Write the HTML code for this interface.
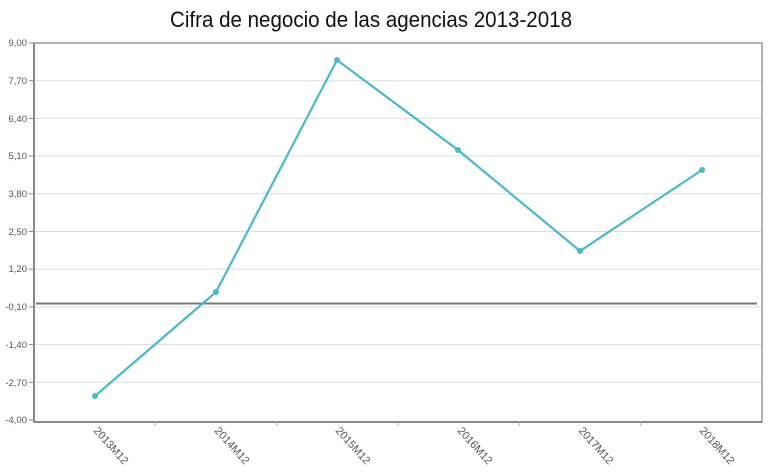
<!DOCTYPE html>
<html><head><meta charset="utf-8"><style>
body{margin:0;background:#fff;}
svg{display:block;font-family:"Liberation Sans",sans-serif;}
</style></head><body>
<svg width="768" height="476" viewBox="0 0 768 476">
<text x="170" y="27" font-size="22" fill="#111" textLength="402" lengthAdjust="spacingAndGlyphs">Cifra de negocio de las agencias 2013-2018</text>
<g stroke="#ddd" stroke-width="1">
<line x1="34" x2="762" y1="80.7" y2="80.7"/>
<line x1="34" x2="762" y1="118.4" y2="118.4"/>
<line x1="34" x2="762" y1="156.1" y2="156.1"/>
<line x1="34" x2="762" y1="193.8" y2="193.8"/>
<line x1="34" x2="762" y1="231.5" y2="231.5"/>
<line x1="34" x2="762" y1="269.2" y2="269.2"/>
<line x1="34" x2="762" y1="306.9" y2="306.9"/>
<line x1="34" x2="762" y1="344.6" y2="344.6"/>
<line x1="34" x2="762" y1="382.3" y2="382.3"/>
</g>
<line x1="36" x2="757" y1="303.5" y2="303.5" stroke="#777" stroke-width="2"/>
<rect x="34" y="43" width="728" height="379" fill="none" stroke="#999" stroke-width="1.5"/>
<line x1="34" x2="34" y1="43" y2="422" stroke="#888" stroke-width="2"/>
<line x1="34" x2="762" y1="422" y2="422" stroke="#888" stroke-width="2"/>
<g stroke="#aaa"><line x1="155" x2="155" y1="422" y2="426"/><line x1="277" x2="277" y1="422" y2="426"/><line x1="398" x2="398" y1="422" y2="426"/><line x1="519" x2="519" y1="422" y2="426"/><line x1="641" x2="641" y1="422" y2="426"/></g>
<g stroke="#888"><line x1="29" x2="34" y1="43" y2="43"/><line x1="29" x2="34" y1="80.7" y2="80.7"/><line x1="29" x2="34" y1="118.4" y2="118.4"/><line x1="29" x2="34" y1="156.1" y2="156.1"/><line x1="29" x2="34" y1="193.8" y2="193.8"/><line x1="29" x2="34" y1="231.5" y2="231.5"/><line x1="29" x2="34" y1="269.2" y2="269.2"/><line x1="29" x2="34" y1="306.9" y2="306.9"/><line x1="29" x2="34" y1="344.6" y2="344.6"/><line x1="29" x2="34" y1="382.3" y2="382.3"/><line x1="29" x2="34" y1="420" y2="420"/></g>
<g font-size="9.5" fill="#555" text-anchor="end">
<text x="27" y="46">9,00</text><text x="27" y="84">7,70</text><text x="27" y="122">6,40</text><text x="27" y="159">5,10</text><text x="27" y="197">3,80</text><text x="27" y="235">2,50</text><text x="27" y="272">1,20</text><text x="27" y="310">-0,10</text><text x="27" y="348">-1,40</text><text x="27" y="386">-2,70</text><text x="27" y="423">-4,00</text>
</g>
<g font-size="11" fill="#555">
<text transform="translate(93,431) rotate(48)">2013M12</text>
<text transform="translate(214,431) rotate(48)">2014M12</text>
<text transform="translate(335,431) rotate(48)">2015M12</text>
<text transform="translate(457,431) rotate(48)">2016M12</text>
<text transform="translate(578,431) rotate(48)">2017M12</text>
<text transform="translate(699,431) rotate(48)">2018M12</text>
</g>
<polyline points="95,396 216,292 337,60 458,150 580,251 702,170" fill="none" stroke="#4bb8c8" stroke-width="2.2"/>
<g fill="#4bb8c8"><circle cx="95" cy="396" r="3"/><circle cx="216" cy="292" r="3"/><circle cx="337" cy="60" r="3"/><circle cx="458" cy="150" r="3"/><circle cx="580" cy="251" r="3"/><circle cx="702" cy="170" r="3"/></g>
</svg>
</body></html>
